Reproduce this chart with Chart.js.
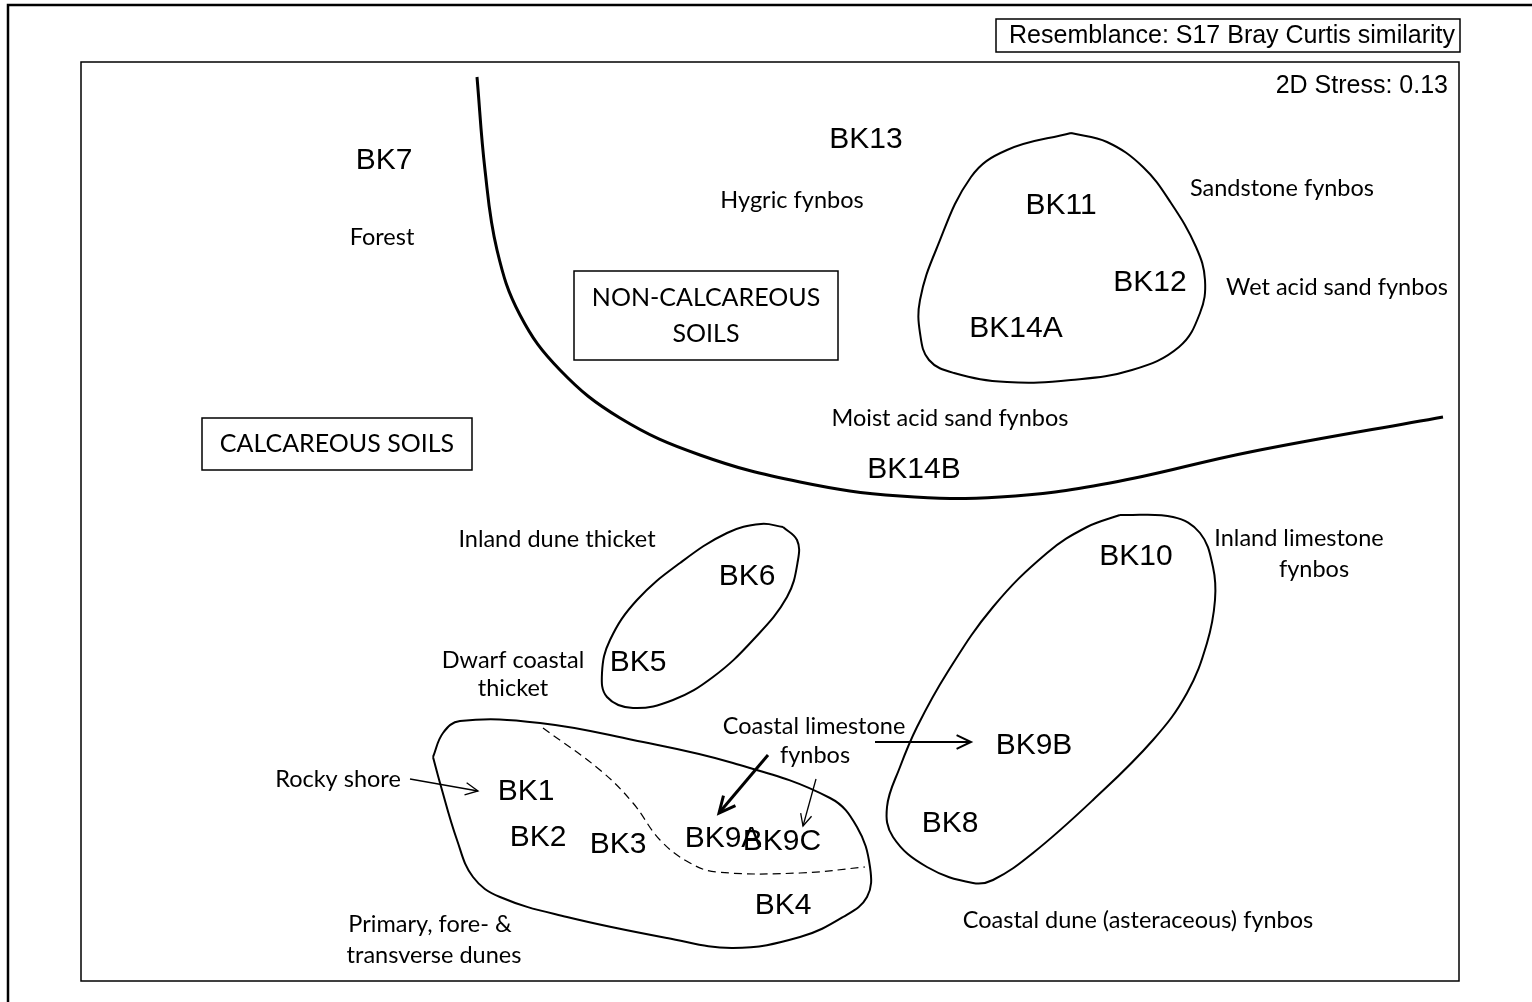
<!DOCTYPE html>
<html lang="en">
<head>
    <meta charset="UTF-8">
    <title>nMDS - Bray Curtis similarity</title>
    <script src="https://cdnjs.cloudflare.com/ajax/libs/Chart.js/4.4.1/chart.umd.min.js"></script>
    <style>
        body { margin: 0; background: #fff; }
        #wrap { width: 1532px; height: 1002px; }
    </style>
</head>
<body>
    <div id="wrap"><canvas id="mds" width="1532" height="1002"></canvas></div>

    <script>
        // MDS ordination (axis units are arbitrary, y up)
        const siteNames = ['BK1', 'BK2', 'BK3', 'BK4', 'BK5', 'BK6', 'BK7', 'BK8', 'BK9A', 'BK9B', 'BK9C', 'BK10', 'BK11', 'BK12', 'BK13', 'BK14A', 'BK14B'];
        const siteX = [445, 457, 537, 702, 557, 666, 303, 869, 642, 953, 701, 1055, 980, 1069, 785, 935, 833];
        const siteY = [189, 143, 136, 75, 318, 404, 820, 157, 142, 235, 139, 424, 775, 698, 841, 652, 511];

        // vegetation type labels
        const groupText = ['Forest', 'Hygric fynbos', 'Sandstone fynbos', 'Wet acid sand fynbos', 'Moist acid sand fynbos',
            'Inland dune thicket', 'Inland limestone', 'fynbos', 'Dwarf coastal', 'thicket', 'Coastal limestone', 'fynbos',
            'Rocky shore', 'Primary, fore- &', 'transverse dunes', 'Coastal dune (asteraceous) fynbos'];
        const groupX = [301, 711, 1201, 1256, 869, 476, 1218, 1233, 432, 432, 733, 734, 257, 349, 353, 1057];
        const groupY = [744, 781, 793, 694, 563, 442, 443, 412, 321, 293, 255, 226, 202, 57, 26, 61];

        // soil type boxes: [text lines, x0, y0, x1, y1]
        const soilBoxes = [
            [['NON-CALCAREOUS', 'SOILS'], 493, 621, 757, 710],
            [['CALCAREOUS SOILS'], 121, 511, 391, 563]
        ];

        // boundary between calcareous and non-calcareous soils
        const soilBoundary = [[396, 904], [404, 811], [416, 731], [439, 666], [479, 611], [539, 563], [619, 526],
            [719, 499], [819, 485], [919, 484], [1029, 498], [1169, 529], [1362, 564]];

        // group outlines
        const fynbosLoop = [[990, 848], [1026, 839], [1062, 814], [1090, 778], [1115, 734], [1124, 701], [1119, 668], [1098, 634],
            [1051, 611], [990, 601], [926, 599], [873, 608], [848, 621], [839, 648], [839, 681], [855, 731], [890, 804], [926, 831]];
        const thicketLoop = [[702, 454], [716, 441], [717, 421], [706, 384], [672, 341], [632, 304], [592, 281], [552, 273],
            [526, 284], [521, 308], [529, 341], [556, 381], [599, 418], [646, 448], [680, 457]];
        const limestoneLoop = [[1039, 466], [1092, 464], [1119, 448], [1132, 414], [1134, 381], [1126, 338], [1106, 288], [1072, 241],
            [1012, 181], [952, 128], [912, 101], [892, 98], [846, 114], [812, 144], [806, 174], [819, 214], [836, 254], [866, 308],
            [912, 374], [966, 428], [1006, 454]];
        const duneLoop = [[352, 224], [362, 248], [379, 260], [459, 258], [552, 241], [652, 218], [749, 183], [776, 154], [789, 114],
            [786, 84], [762, 64], [719, 44], [652, 33], [586, 43], [486, 64], [419, 84], [392, 104], [376, 141], [359, 198]];
        const duneSplit = [[462, 253], [519, 211], [552, 178], [579, 141], [609, 118], [636, 109], [719, 108], [784, 114]];

        // arrows: [from, to, line width, head size]
        const arrows = [
            [[329, 202], [397, 190], 1.3, 14],
            [[687, 226], [638, 168], 3, 18],
            [[735, 202], [722, 155], 1.3, 13],
            [[794, 239], [890, 239], 2, 16]
        ];

        const pts = list => list.map(([x, y]) => ({x, y}));
        const closed = list => pts(list.concat([list[0]]));

        function curve(data, width, dash) {
            return {
                data: data, showLine: true, borderColor: '#000', borderWidth: width,
                borderDash: dash || [], tension: 0.4, pointRadius: 0, fill: false
            };
        }

        const datasets = [
            {data: siteNames.map((n, i) => ({x: siteX[i], y: siteY[i]})), pointRadius: 0, sites: true},
            {data: groupText.map((n, i) => ({x: groupX[i], y: groupY[i]})), pointRadius: 0, groups: true},
            curve(pts(soilBoundary), 3),
            curve(closed(fynbosLoop), 2),
            curve(closed(thicketLoop), 2),
            curve(closed(limestoneLoop), 2),
            curve(closed(duneLoop), 2),
            curve(pts(duneSplit), 1.2, [8, 5])
        ];
        arrows.forEach(a => {
            const ds = curve(pts([a[0], a[1]]), a[2]);
            ds.tension = 0;
            ds.head = a[3];
            datasets.push(ds);
        });

        const annotate = {
            id: 'annotate',
            afterDatasetsDraw(chart) {
                const ctx = chart.ctx;
                const xs = chart.scales.x, ys = chart.scales.y;
                ctx.save();
                ctx.fillStyle = '#000';
                ctx.strokeStyle = '#000';
                ctx.textAlign = 'center';
                ctx.textBaseline = 'middle';

                chart.data.datasets.forEach((ds, i) => {
                    const meta = chart.getDatasetMeta(i);
                    if (ds.sites) {
                        ctx.font = '30px "Liberation Sans", Arial, sans-serif';
                        meta.data.forEach((p, j) => ctx.fillText(siteNames[j], p.x, p.y));
                    }
                    if (ds.groups) {
                        ctx.font = '23.5px Lato, "Open Sans", sans-serif';
                        meta.data.forEach((p, j) => ctx.fillText(groupText[j], p.x, p.y));
                    }
                    if (ds.head) {
                        const a = meta.data[0], b = meta.data[1];
                        const ang = Math.atan2(b.y - a.y, b.x - a.x);
                        ctx.lineWidth = ds.borderWidth;
                        ctx.beginPath();
                        ctx.moveTo(b.x - ds.head * Math.cos(ang - 0.45), b.y - ds.head * Math.sin(ang - 0.45));
                        ctx.lineTo(b.x, b.y);
                        ctx.lineTo(b.x - ds.head * Math.cos(ang + 0.45), b.y - ds.head * Math.sin(ang + 0.45));
                        ctx.stroke();
                    }
                });

                // soil boxes
                ctx.font = '25px Lato, "Open Sans", sans-serif';
                ctx.lineWidth = 1.5;
                soilBoxes.forEach(([lines, x0, y0, x1, y1]) => {
                    const l = xs.getPixelForValue(x0), r = xs.getPixelForValue(x1);
                    const t = ys.getPixelForValue(y1), b = ys.getPixelForValue(y0);
                    ctx.strokeRect(l, t, r - l, b - t);
                    const lh = 36, cy = (t + b) / 2 - (lines.length - 1) * lh / 2;
                    lines.forEach((s, k) => ctx.fillText(s, (l + r) / 2, cy + k * lh));
                });
                ctx.restore();
            },
            afterDraw(chart) {
                const ctx = chart.ctx;
                const area = chart.chartArea;
                ctx.save();
                ctx.strokeStyle = '#000';
                ctx.fillStyle = '#000';
                // outer frame
                ctx.lineWidth = 2.5;
                ctx.strokeRect(8, 5, 1560, 1020);
                // plot frame
                ctx.lineWidth = 1.5;
                ctx.strokeRect(area.left, area.top, area.right - area.left, area.bottom - area.top);
                // resemblance box
                ctx.strokeRect(996, 19, 464, 33);
                ctx.font = '25px "Liberation Sans", Arial, sans-serif';
                ctx.textAlign = 'right';
                ctx.textBaseline = 'middle';
                ctx.fillText('Resemblance: S17 Bray Curtis similarity', 1455, 36);
                ctx.fillText('2D Stress: 0.13', 1448, 86);
                ctx.restore();
            }
        };

        new Chart(document.getElementById('mds'), {
            type: 'scatter',
            data: {datasets: datasets},
            options: {
                responsive: false,
                animation: false,
                devicePixelRatio: 1,
                layout: {padding: {left: 81, top: 62, right: 73, bottom: 21}},
                plugins: {legend: {display: false}, tooltip: {enabled: false}},
                scales: {
                    x: {type: 'linear', min: 0, max: 1378, display: false},
                    y: {type: 'linear', min: 0, max: 919, display: false}
                }
            },
            plugins: [annotate]
        });
    </script>
</body>
</html>
